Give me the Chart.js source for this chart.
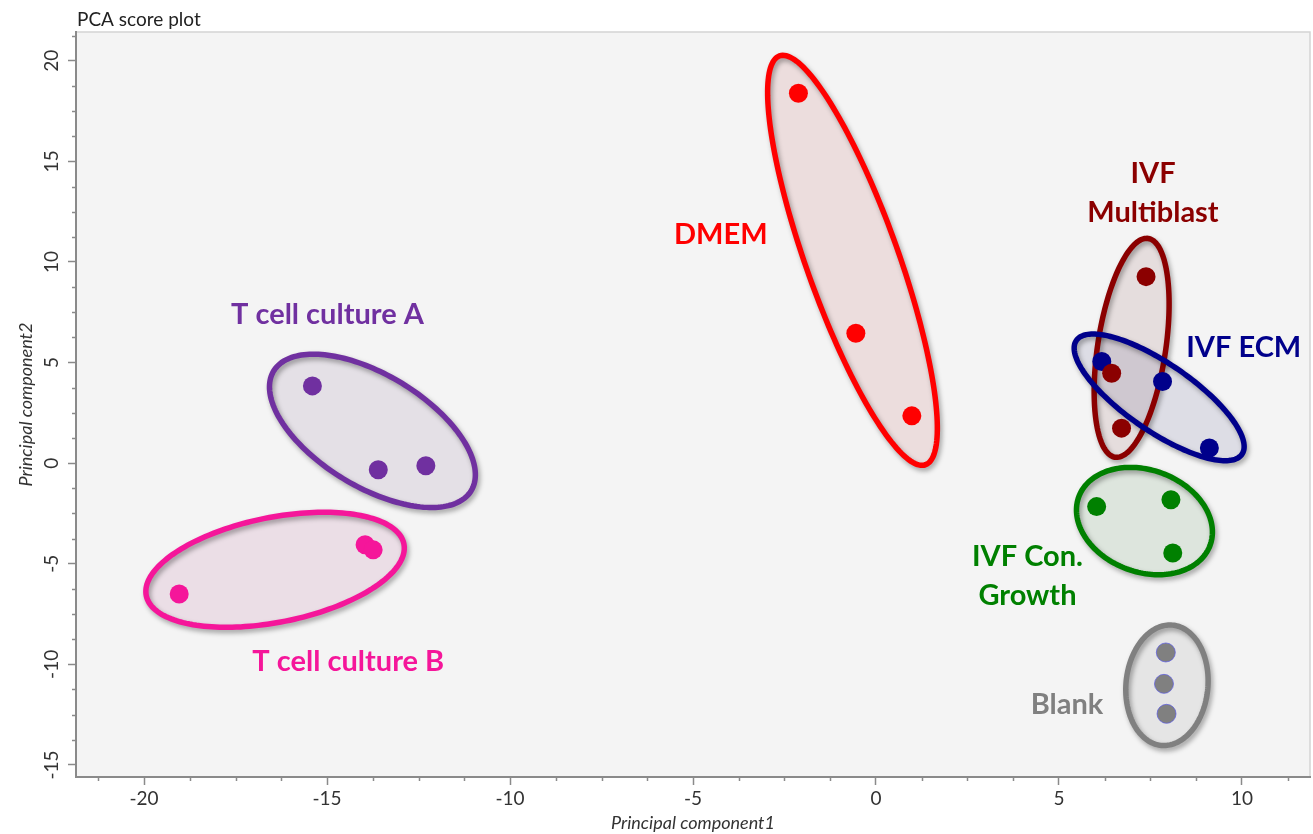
<!DOCTYPE html>
<html>
<head>
<meta charset="utf-8">
<title>PCA score plot</title>
<script src="https://cdn.jsdelivr.net/npm/chart.js@4.4.1/dist/chart.umd.min.js"></script>
<style>
    html, body { margin: 0; padding: 0; background: #fff; overflow: hidden; }
    canvas { display: block; }
</style>
</head>
<body>
<canvas id="pca-chart" width="1313" height="834"></canvas>
<script>
// ---- data (PC1 / PC2 scores) ----
const groupNames = ['T cell culture A', 'T cell culture B', 'DMEM', 'IVF Multiblast', 'IVF ECM', 'IVF Con. Growth', 'Blank'];
const pc1Scores = [
    [-15.40, -13.60, -12.30],
    [-19.04, -13.96, -13.74],
    [-2.12, -0.55, 0.98],
    [7.38, 6.44, 6.71],
    [6.17, 7.83, 9.11],
    [6.03, 8.06, 8.11],
    [7.92, 7.87, 7.94]
];
const pc2Scores = [
    [3.84, -0.33, -0.13],
    [-6.50, -4.06, -4.31],
    [18.39, 6.46, 2.35],
    [9.27, 4.47, 1.74],
    [5.05, 4.06, 0.75],
    [-2.16, -1.82, -4.47],
    [-9.41, -10.97, -12.46]
];
const xTickValues = [-20, -15, -10, -5, 0, 5, 10];
const yTickValues = [-15, -10, -5, 0, 5, 10, 15, 20];
const minorStep = 1.25;

// group ellipses: centre and two semi-axis vectors, all in PC units
const ellipseCentres = [[-13.76, 1.605], [-16.42, -5.30], [-0.642, 10.08], [6.986, 5.731], [7.738, 3.270], [7.336, -2.878], [7.951, -11.04]];
const ellipseAxisA = [[2.699, -2.974], [3.520, 1.285], [1.994, -10.16], [-0.452, -5.436], [2.263, -2.829], [1.793, -1.210], [0.152, 2.989]];
const ellipseAxisB = [[-0.793, -2.381], [0.282, -2.553], [-1.184, -0.769], [-0.919, 0.253], [-0.522, -1.380], [-0.485, -2.377], [1.115, -0.188]];

// group label text (lines) and where it sits, PC units
const labelLines = [['T cell culture A'], ['T cell culture B'], ['DMEM'], ['IVF', 'Multiblast'], ['IVF ECM'], ['IVF Con.', 'Growth'], ['Blank']];
const labelAnchors = [[-14.99, 7.37], [-14.42, -9.86], [-4.24, 11.35], [7.57, 13.43], [10.05, 5.72], [4.14, -5.63], [5.22, -11.99]];

const groupColors = ['#7030a0', '#f5169a', '#ff0000', '#8b0000', '#00008b', '#008000', '#808080'];
const FONT = 'Lato, "Open Sans", sans-serif';

function withAlpha(hex, a) {
    const n = parseInt(hex.slice(1), 16);
    return `rgba(${(n >> 16) & 255}, ${(n >> 8) & 255}, ${n & 255}, ${a})`;
}

function traceEllipse(ctx, xs, ys, i) {
    const [cx, cy] = ellipseCentres[i];
    const [ax, ay] = ellipseAxisA[i];
    const [bx, by] = ellipseAxisB[i];
    ctx.beginPath();
    for (let k = 0; k <= 180; k++) {
        const t = k / 180 * Math.PI * 2;
        const px = xs.getPixelForValue(cx + ax * Math.cos(t) + bx * Math.sin(t));
        const py = ys.getPixelForValue(cy + ay * Math.cos(t) + by * Math.sin(t));
        if (k === 0) ctx.moveTo(px, py); else ctx.lineTo(px, py);
    }
    ctx.closePath();
}

// plot panel background + faint top/right frame
const panelPlugin = {
    id: 'panel',
    beforeDraw(chart) {
        const { ctx, chartArea: a } = chart;
        ctx.save();
        ctx.fillStyle = '#f4f4f4';
        ctx.fillRect(a.left, a.top, a.right - a.left, a.bottom - a.top);
        ctx.strokeStyle = '#d4d4d4';
        ctx.lineWidth = 1.5;
        ctx.beginPath();
        ctx.moveTo(a.left, a.top); ctx.lineTo(a.right, a.top); ctx.lineTo(a.right, a.bottom);
        ctx.stroke();
        // chart title
        ctx.fillStyle = '#222';
        ctx.font = `19px ${FONT}`;
        ctx.textBaseline = 'alphabetic';
        ctx.textAlign = 'left';
        ctx.fillText('PCA score plot', 77, 26);
        ctx.restore();
    }
};

// ellipses behind the points
const ellipsePlugin = {
    id: 'groupEllipses',
    beforeDatasetsDraw(chart) {
        const { ctx, scales: { x, y } } = chart;
        ctx.save();
        groupNames.forEach((_, i) => {
            traceEllipse(ctx, x, y, i);
            ctx.fillStyle = 'rgba(0, 0, 0, 0.035)';
            ctx.fill();
            ctx.fillStyle = withAlpha(groupColors[i], 0.06);
            ctx.fill();
        });
        groupNames.forEach((_, i) => {
            traceEllipse(ctx, x, y, i);
            ctx.shadowColor = 'rgba(0, 0, 0, 0.35)';
            ctx.shadowBlur = 5;
            ctx.shadowOffsetX = 2;
            ctx.shadowOffsetY = 3;
            ctx.strokeStyle = groupColors[i];
            ctx.lineWidth = 5.5;
            ctx.stroke();
        });
        ctx.restore();
    },
    afterDatasetsDraw(chart) {
        const { ctx, scales: { x, y } } = chart;
        ctx.save();
        ctx.font = `bold 29px ${FONT}`;
        ctx.textAlign = 'center';
        ctx.textBaseline = 'middle';
        const lineGap = 39;
        labelLines.forEach((lines, i) => {
            const px = x.getPixelForValue(labelAnchors[i][0]);
            const py = y.getPixelForValue(labelAnchors[i][1]);
            ctx.fillStyle = groupColors[i];
            lines.forEach((txt, j) => {
                ctx.fillText(txt, px, py + (j - (lines.length - 1) / 2) * lineGap);
            });
        });
        ctx.restore();
    }
};

// short minor ticks between the labelled ones
const minorTickPlugin = {
    id: 'minorTicks',
    afterDraw(chart) {
        const { ctx, chartArea: a, scales: { x, y } } = chart;
        ctx.save();
        ctx.strokeStyle = '#8a8a8a';
        ctx.lineWidth = 1.5;
        ctx.beginPath();
        for (let k = Math.ceil(x.min / minorStep); k * minorStep <= x.max; k++) {
            if (k % 4 === 0) continue;
            const px = Math.round(x.getPixelForValue(k * minorStep)) + 0.5;
            ctx.moveTo(px, a.bottom); ctx.lineTo(px, a.bottom + 4);
        }
        for (let k = Math.ceil(y.min / minorStep); k * minorStep <= y.max; k++) {
            if (k % 4 === 0) continue;
            const py = Math.round(y.getPixelForValue(k * minorStep)) + 0.5;
            ctx.moveTo(a.left, py); ctx.lineTo(a.left - 4, py);
        }
        ctx.stroke();
        ctx.restore();
    }
};

const datasets = groupNames.map((name, i) => ({
    label: name,
    data: pc1Scores[i].map((v, j) => ({ x: v, y: pc2Scores[i][j] })),
    backgroundColor: groupColors[i],
    borderColor: name === 'Blank' ? 'rgba(90, 90, 230, 0.7)' : groupColors[i],
    borderWidth: name === 'Blank' ? 1 : 0,
    pointRadius: 9.5,
    pointHoverRadius: 9.5
}));

const axisCommon = {
    type: 'linear',
    grid: { drawOnChartArea: false, drawTicks: true, tickLength: 8, color: '#8a8a8a', tickWidth: 1.5 },
    border: { display: true, color: '#8a8a8a', width: 2 },
};

new Chart(document.getElementById('pca-chart'), {
    type: 'scatter',
    data: { datasets },
    options: {
        responsive: false,
        maintainAspectRatio: false,
        animation: false,
        devicePixelRatio: 1,
        layout: { autoPadding: false, padding: { top: 32, left: 15, right: 3, bottom: 0 } },
        plugins: { legend: { display: false }, tooltip: { enabled: false } },
        scales: {
            x: {
                ...axisCommon,
                position: 'bottom',
                min: -21.86,
                max: 11.86,
                afterBuildTicks: s => { s.ticks = xTickValues.map(v => ({ value: v })); },
                afterFit: s => { s.height = 57; },
                ticks: { autoSkip: false, maxRotation: 0, padding: 2, color: '#333', font: { family: FONT, size: 19 } },
                title: { display: true, text: 'Principal component1', color: '#333', padding: 0, font: { family: FONT, size: 18, style: 'italic' } }
            },
            y: {
                ...axisCommon,
                position: 'left',
                min: -15.6,
                max: 21.43,
                afterBuildTicks: s => { s.ticks = yTickValues.map(v => ({ value: v })); },
                afterFit: s => { s.width = 61; },
                ticks: { autoSkip: false, minRotation: 90, maxRotation: 90, crossAlign: 'center', padding: 2, color: '#333', font: { family: FONT, size: 19 } },
                title: { display: true, text: 'Principal component2', color: '#333', padding: 0, font: { family: FONT, size: 18, style: 'italic' } }
            }
        }
    },
    plugins: [panelPlugin, ellipsePlugin, minorTickPlugin]
});
</script>
</body>
</html>
